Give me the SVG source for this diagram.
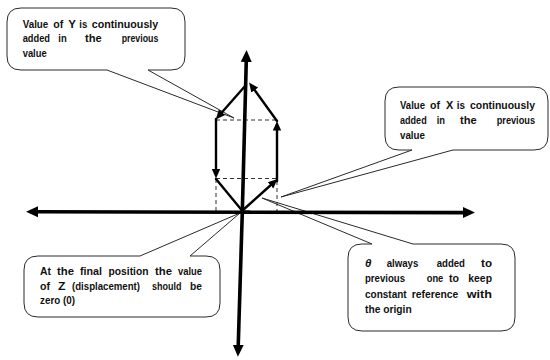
<svg xmlns="http://www.w3.org/2000/svg" width="550" height="360" viewBox="0 0 550 360">
  <style>
    .bubble { fill: #ffffff; stroke: #2a2a2a; stroke-width: 1; stroke-linejoin: round; }
    .lbl { font-family: "Liberation Sans", Arial, sans-serif; font-weight: bold; font-size: 11.5px; fill: #111111; }
    .axis { stroke: #000000; stroke-width: 3.6; fill: none; }
    .vec { stroke: #000000; stroke-width: 2.4; fill: none; stroke-linecap: round; }
    .guide { stroke: #333333; stroke-width: 1; stroke-dasharray: 4 3; fill: none; }
  </style>
  <defs>
    <marker id="axisHead" viewBox="0 -6 12 12" refX="2" refY="0" markerWidth="12" markerHeight="12" markerUnits="userSpaceOnUse" orient="auto">
      <path d="M0,-5.5 L12,0 L0,5.5 Z" fill="#000000"/>
    </marker>
    <marker id="vecHead" viewBox="0 -5 10 10" refX="2" refY="0" markerWidth="10" markerHeight="10" markerUnits="userSpaceOnUse" orient="auto">
      <path d="M0,-4.2 L9.5,0 L0,4.2 Z" fill="#000000"/>
    </marker>
  </defs>

  <!-- callout: Y increment (justified words, each fitted to its slot) -->
  <g id="callout-y">
    <path class="bubble" d="M21,8 H171 Q185,8 185,22 V56 Q185,70 171,70 H148 L234,118 L107,70 H21 Q7,70 7,56 V22 Q7,8 21,8 Z"/>
    <g class="lbl">
      <text x="22.7" y="27.5" textLength="25.6" lengthAdjust="spacingAndGlyphs">Value</text>
      <text x="53.3" y="27.5" textLength="10" lengthAdjust="spacingAndGlyphs">of</text>
      <text x="68.3" y="27.5" textLength="7.7" lengthAdjust="spacingAndGlyphs">Y</text>
      <text x="79.3" y="27.5" textLength="8" lengthAdjust="spacingAndGlyphs">is</text>
      <text x="91.7" y="27.5" textLength="66.6" lengthAdjust="spacingAndGlyphs">continuously</text>
      <text x="22.7" y="42" textLength="27.3" lengthAdjust="spacingAndGlyphs">added</text>
      <text x="58.3" y="42" textLength="8.4" lengthAdjust="spacingAndGlyphs">in</text>
      <text x="85" y="42" textLength="16.7" lengthAdjust="spacingAndGlyphs">the</text>
      <text x="121.7" y="42" textLength="36.6" lengthAdjust="spacingAndGlyphs">previous</text>
      <text x="22.7" y="56.5" textLength="24" lengthAdjust="spacingAndGlyphs">value</text>
    </g>
  </g>

  <!-- callout: X increment -->
  <g id="callout-x">
    <path class="bubble" d="M399,87 H534 Q548,87 548,101 V136 Q548,150 534,150 H453 L281,197 L412,150 H399 Q385,150 385,136 V101 Q385,87 399,87 Z"/>
    <g class="lbl">
      <text x="400" y="108.5" textLength="25" lengthAdjust="spacingAndGlyphs">Value</text>
      <text x="430" y="108.5" textLength="10" lengthAdjust="spacingAndGlyphs">of</text>
      <text x="446" y="108.5" textLength="7.3" lengthAdjust="spacingAndGlyphs">X</text>
      <text x="456.7" y="108.5" textLength="8.3" lengthAdjust="spacingAndGlyphs">is</text>
      <text x="470" y="108.5" textLength="65" lengthAdjust="spacingAndGlyphs">continuously</text>
      <text x="400" y="123.5" textLength="26.7" lengthAdjust="spacingAndGlyphs">added</text>
      <text x="436.7" y="123.5" textLength="8.3" lengthAdjust="spacingAndGlyphs">in</text>
      <text x="460" y="123.5" textLength="16.7" lengthAdjust="spacingAndGlyphs">the</text>
      <text x="496.7" y="123.5" textLength="38.3" lengthAdjust="spacingAndGlyphs">previous</text>
      <text x="400" y="138.8" textLength="25" lengthAdjust="spacingAndGlyphs">value</text>
    </g>
  </g>

  <!-- callout: Z displacement -->
  <g id="callout-z">
    <path class="bubble" d="M38,256 H140 L240,213 L190,256 H206 Q220,256 220,270 V303 Q220,317 206,317 H38 Q24,317 24,303 V270 Q24,256 38,256 Z"/>
    <g class="lbl">
      <text x="40" y="275" textLength="11" lengthAdjust="spacingAndGlyphs">At</text>
      <text x="57" y="275" textLength="17" lengthAdjust="spacingAndGlyphs">the</text>
      <text x="80" y="275" textLength="22" lengthAdjust="spacingAndGlyphs">final</text>
      <text x="108.5" y="275" textLength="40" lengthAdjust="spacingAndGlyphs">position</text>
      <text x="155" y="275" textLength="17" lengthAdjust="spacingAndGlyphs">the</text>
      <text x="178" y="275" textLength="24" lengthAdjust="spacingAndGlyphs">value</text>
      <text x="40" y="289.5" textLength="10" lengthAdjust="spacingAndGlyphs">of</text>
      <text x="58" y="289.5" textLength="7.5" lengthAdjust="spacingAndGlyphs">Z</text>
      <text x="72" y="289.5" textLength="68" lengthAdjust="spacingAndGlyphs">(displacement)</text>
      <text x="152" y="289.5" textLength="29.5" lengthAdjust="spacingAndGlyphs">should</text>
      <text x="190" y="289.5" textLength="12" lengthAdjust="spacingAndGlyphs">be</text>
      <text x="40" y="304" textLength="35" lengthAdjust="spacingAndGlyphs">zero (0)</text>
    </g>
  </g>

  <!-- callout: theta reference -->
  <g id="callout-theta">
    <path class="bubble" d="M362,244 H372 L262,198 L413,244 H501 Q515,244 515,258 V317 Q515,331 501,331 H362 Q348,331 348,317 V258 Q348,244 362,244 Z"/>
    <g class="lbl">
      <text x="365" y="266.5" font-style="italic">θ</text>
      <text x="386.7" y="266.5" textLength="31.6" lengthAdjust="spacingAndGlyphs">always</text>
      <text x="436.7" y="266.5" textLength="28.3" lengthAdjust="spacingAndGlyphs">added</text>
      <text x="481" y="266.5" textLength="11" lengthAdjust="spacingAndGlyphs">to</text>
      <text x="365" y="282" textLength="40" lengthAdjust="spacingAndGlyphs">previous</text>
      <text x="426.7" y="282" textLength="16.6" lengthAdjust="spacingAndGlyphs">one</text>
      <text x="449" y="282" textLength="10" lengthAdjust="spacingAndGlyphs">to</text>
      <text x="468.3" y="282" textLength="23.7" lengthAdjust="spacingAndGlyphs">keep</text>
      <text x="365" y="297.5" textLength="41.7" lengthAdjust="spacingAndGlyphs">constant</text>
      <text x="411.7" y="297.5" textLength="46.6" lengthAdjust="spacingAndGlyphs">reference</text>
      <text x="466.7" y="297.5" textLength="25.3" lengthAdjust="spacingAndGlyphs">with</text>
      <text x="365" y="313" textLength="46.7" lengthAdjust="spacingAndGlyphs">the origin</text>
    </g>
  </g>

  <!-- dashed projection guides -->
  <g id="guides">
    <line class="guide" x1="216" y1="120" x2="277" y2="120"/>
    <line class="guide" x1="216" y1="178.5" x2="277" y2="178.5"/>
    <line class="guide" x1="216" y1="179" x2="216" y2="211"/>
    <line class="guide" x1="277" y1="181" x2="277" y2="211"/>
  </g>

  <g id="connectors">
    <!-- axes -->
    <line class="axis" x1="250" y1="212.2" x2="36" y2="211.8" marker-end="url(#axisHead)"/>
    <line class="axis" x1="240" y1="212.2" x2="465" y2="212.6" marker-end="url(#axisHead)"/>
    <line class="axis" x1="242.3" y1="212" x2="246.3" y2="60" marker-end="url(#axisHead)"/>
    <line class="axis" x1="242.3" y1="212" x2="238.2" y2="346.7" marker-end="url(#axisHead)"/>
    <!-- incremental steps around the loop -->
    <line class="vec" x1="243" y1="210" x2="272" y2="184" marker-end="url(#vecHead)"/>
    <line class="vec" x1="277" y1="181" x2="277" y2="128.5" marker-end="url(#vecHead)"/>
    <line class="vec" x1="277" y1="121" x2="253.5" y2="88.5" marker-end="url(#vecHead)"/>
    <line class="vec" x1="246" y1="85" x2="220.7" y2="113.8" marker-end="url(#vecHead)"/>
    <line class="vec" x1="216" y1="119" x2="216" y2="171" marker-end="url(#vecHead)"/>
    <line class="vec" x1="216" y1="179" x2="242" y2="210.5"/>
  </g>
</svg>
